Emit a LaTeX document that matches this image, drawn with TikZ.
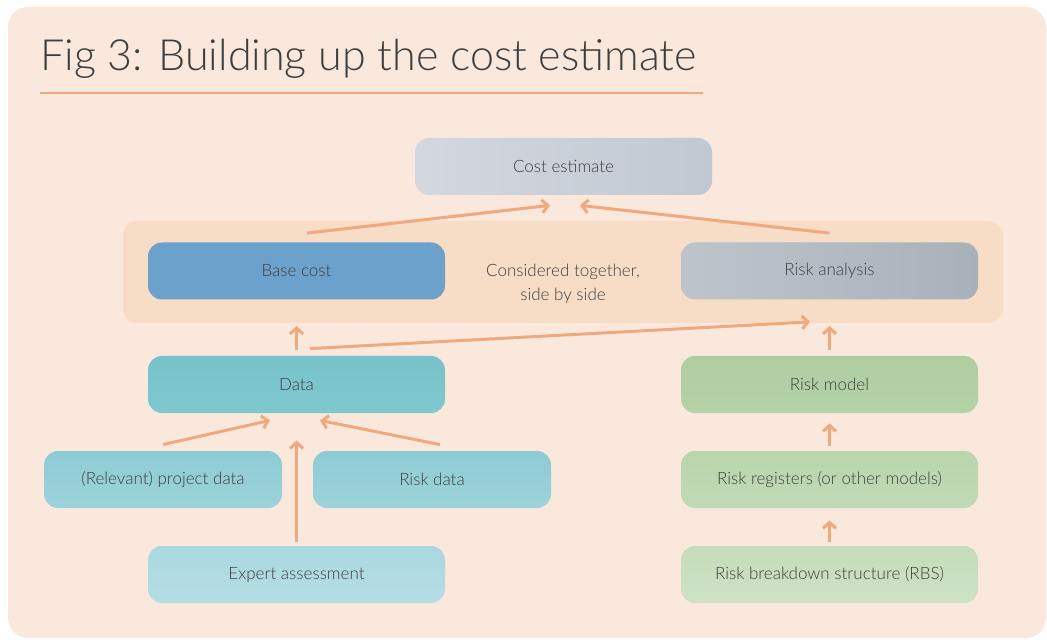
\documentclass[tikz,border=0pt]{standalone}
\usepackage{fontspec}
\setmainfont{Lato Light}
\usetikzlibrary{arrows.meta,calc}

\definecolor{panelbg}{HTML}{FBE8DD}
\definecolor{bandbg}{HTML}{F7DCC6}
\definecolor{flowcol}{HTML}{EEAA7E}
\definecolor{txtgray}{HTML}{3E3E3E}

\begin{document}
\begin{tikzpicture}[x=0.5pt,y=-0.5pt,
                    flow/.style={draw=flowcol,line width=1.5pt,
                      -{Straight Barb[length=3pt,width=6.5pt]}},
                    box/.style={rounded corners=7pt,minimum width=148.5pt,
                      minimum height=28.5pt,text=txtgray,
                      font=\fontsize{8.5}{10}\selectfont},
                    smallbox/.style={box,minimum width=119pt}]

  \useasboundingbox[fill=white] (0,0) rectangle (1047,640);
  \fill[panelbg,rounded corners=10pt] (8,7) rectangle (1046,638);

  % title
  \node[anchor=base west,inner sep=0pt,text=txtgray,
        font=\fontsize{21.5}{24}\selectfont] (title) at (40,71)
        {Fig 3: Building up the cost estimate};
  \draw[flowcol,line width=0.7pt] (40,93) -- (703,93);

  % band behind the two inputs
  \node[fill=bandbg,rounded corners=7pt,minimum width=440pt,
        minimum height=51pt] (band) at (563,272) {};

  \node[box,left color={rgb,255:red,211;green,216;blue,223},
        right color={rgb,255:red,193;green,200;blue,209}]
                                   (cost)    at (563.5,166.5) {Cost estimate};
  \node[box,fill={rgb,255:red,107;green,161;blue,203}]
                                   (base)    at (296.5,271)   {Base cost};
  \node[box,left color={rgb,255:red,189;green,196;blue,204},
        right color={rgb,255:red,168;green,177;blue,186}]
                                   (riskan)  at (829.5,271)   {Risk analysis};
  \node[text=txtgray,align=center,font=\fontsize{8.5}{12}\selectfont]
                                   (together) at (563,284)
        {Considered together,\\side by side};

  \node[box,top color={rgb,255:red,119;green,194;blue,202},
        bottom color={rgb,255:red,128;green,200;blue,207}]
                                   (data)    at (296.5,384.5) {Data};
  \node[box,top color={rgb,255:red,174;green,205;blue,160},
        bottom color={rgb,255:red,181;green,210;blue,168}]
                                   (model)   at (829.5,384.5) {Risk model};
  \node[smallbox,top color={rgb,255:red,141;green,203;blue,212},
        bottom color={rgb,255:red,157;green,211;blue,218}]
                                   (proj)    at (163,479.5)   {(Relevant) project data};
  \node[smallbox,top color={rgb,255:red,141;green,203;blue,212},
        bottom color={rgb,255:red,157;green,211;blue,218}]
                                   (rdata)   at (432,479.5)   {Risk data};
  \node[box,top color={rgb,255:red,169;green,216;blue,223},
        bottom color={rgb,255:red,181;green,222;blue,227}]
                                   (expert)  at (296.5,574.5) {Expert assessment};
  \node[box,top color={rgb,255:red,184;green,213;blue,172},
        bottom color={rgb,255:red,193;green,218;blue,182}]
                                   (reg)     at (829.5,479.5) {Risk registers (or other models)};
  \node[box,top color={rgb,255:red,197;green,221;blue,187},
        bottom color={rgb,255:red,205;green,226;blue,197}]
                                   (rbs)     at (829.5,574.5) {Risk breakdown structure (RBS)};

  % arrows
  \draw[flow] ($(base.north)+(10.5,-9)$)   -- ($(cost.south)+(-13.5,10)$);
  \draw[flow] ($(riskan.north)+(0,-9)$)    -- ($(cost.south)+(16.5,10)$);
  \draw[flow] ($(data.north)+(0,-6)$)      -- ($(base.south)+(0,26)$);
  \draw[flow] ($(data.north)+(13.5,-7)$)   -- ($(riskan.south)+(-19.5,22)$);
  \draw[flow] ($(model.north)+(0,-6)$)     -- ($(riskan.south)+(0,26)$);
  \draw[flow] ($(proj.north)+(0,-6)$)      -- ($(data.south)+(-26.5,7)$);
  \draw[flow] ($(rdata.north)+(8,-6)$)     -- ($(data.south)+(23.5,7)$);
  \draw[flow] ($(expert.north)+(0,-4)$)    -- ($(data.south)+(0,27)$);
  \draw[flow] ($(rbs.north)+(0,-4)$)       -- ($(reg.south)+(0,12)$);
  \draw[flow] ($(reg.north)+(0,-5)$)       -- ($(model.south)+(0,10)$);
\end{tikzpicture}
\end{document}
